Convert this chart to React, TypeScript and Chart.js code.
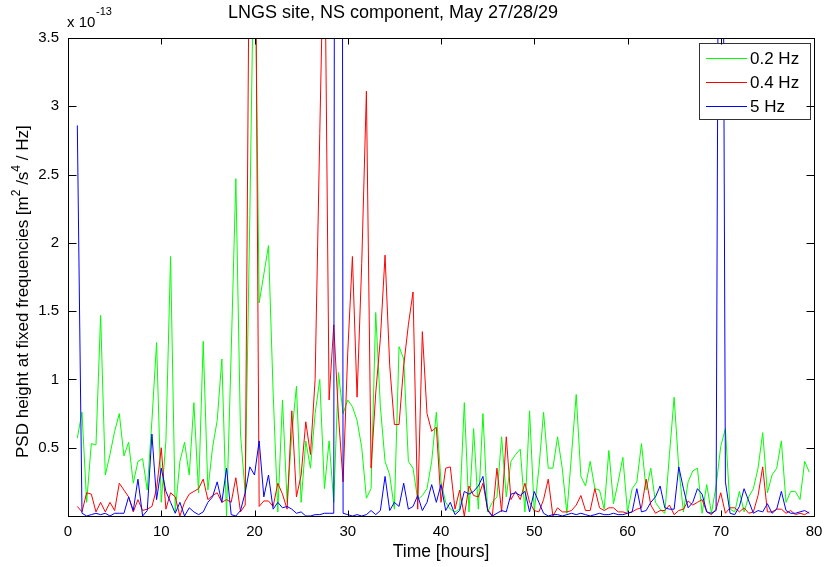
import React, { useEffect, useRef } from "react";
import { Chart, registerables } from "chart.js";

Chart.register(...registerables);

// Sampling grid of the PSD estimates (hours)
const FIRST_HOUR = 1;
const STEP_HOURS = 0.5;

// PSD height at 0.2 Hz, units of 1e-13 m^2/s^4/Hz (one row = 5 hours)
const psd02Hz = [
  0.57, 0.76, 0.1, 0.53, 0.52, 1.47, 0.3, 0.45, 0.62, 0.75,
  0.44, 0.54, 0.24, 0.4, 0.42, 0.19, 0.7, 1.27, 0.1, 0.55,
  1.9, 0.03, 0.4, 0.54, 0.3, 0.83, 0.17, 1.28, 0.19, 0.5,
  0.7, 1.15, 0.0, 1.2, 2.47, 0.6, 0.17, 2.2, 4.5, 1.56,
  1.77, 1.98, 0.9, 0.03, 0.85, 0.1, 0.6, 0.95, 0.1, 0.55,
  0.35, 0.75, 1.0, 0.2, 0.55, 0.1, 1.05, 0.75, 0.85, 0.8,
  0.7, 0.5, 0.13, 0.2, 1.49, 0.8, 0.4, 0.3, 0.05, 1.24,
  1.15, 0.4, 0.35, 0.12, 0.15, 0.2, 0.4, 0.76, 0.25, 0.1,
  0.05, 0.03, 0.05, 0.83, 0.03, 0.64, 0.05, 0.75, 0.03, 0.1,
  0.14, 0.58, 0.14, 0.4, 0.45, 0.49, 0.03, 0.77, 0.03, 0.35,
  0.76, 0.35, 0.35, 0.58, 0.35, 0.02, 0.45, 0.89, 0.29, 0.22,
  0.4, 0.2, 0.19, 0.05, 0.48, 0.09, 0.25, 0.43, 0.03, 0.2,
  0.25, 0.53, 0.19, 0.35, 0.1, 0.05, 0.02, 0.45, 0.87, 0.35,
  0.03, 0.25, 0.33, 0.35, 0.02, 0.23, 0.02, 0.22, 0.51, 0.64,
  0.05, 0.03, 0.18, 0.03, 0.14, 0.2, 0.35, 0.61, 0.17, 0.3,
  0.35, 0.55, 0.1, 0.18, 0.18, 0.12, 0.4, 0.32,
];

// PSD height at 0.4 Hz
const psd04Hz = [
  0.07, 0.03, 0.17, 0.16, 0.03, 0.1, 0.03, 0.1, 0.04, 0.24,
  0.19, 0.14, 0.03, 0.12, 0.04, 0.05, 0.07, 0.2, 0.5, 0.05,
  0.17, 0.14, 0.0, 0.1, 0.16, 0.18, 0.2, 0.27, 0.12, 0.15,
  0.17, 0.1, 0.12, 0.1, 0.28, 0.03, 0.08, 4.8, 5.5, 0.07,
  0.11, 0.11, 0.07, 0.24, 0.16, 0.05, 0.77, 0.14, 0.3, 0.69,
  0.45, 1.0, 2.8, 4.5, 0.85, 1.4, 0.74, 0.25, 1.2, 1.9,
  0.87, 1.85, 3.11, 0.35, 0.9, 1.3, 1.91, 1.1, 0.67, 0.67,
  1.1, 1.4, 1.64, 0.05, 1.35, 0.75, 0.62, 0.65, 0.1, 0.35,
  0.36, 0.05, 0.19, 0.0, 0.22, 0.15, 0.14, 0.24, 0.05, 0.0,
  0.35, 0.03, 0.58, 0.12, 0.18, 0.12, 0.24, 0.1, 0.04, 0.03,
  0.12, 0.27, 0.0, 0.06, 0.03, 0.03, 0.04, 0.08, 0.15, 0.04,
  0.04, 0.2, 0.06, 0.04, 0.06, 0.06, 0.03, 0.03, 0.02, 0.03,
  0.05, 0.06, 0.27, 0.08, 0.02, 0.04, 0.04, 0.08, 0.01, 0.04,
  0.05, 0.11, 0.08, 0.1, 0.12, 0.03, 0.01, 0.05, 0.17, 0.02,
  0.06, 0.06, 0.03, 0.06, 0.02, 0.03, 0.15, 0.36, 0.03, 0.03,
  0.05, 0.05, 0.02, 0.04, 0.01, 0.02, 0.01, 0.03,
];

// PSD height at 5 Hz
const psd5Hz = [
  2.86, 0.02, 0.0, 0.01, 0.02, 0.01, 0.02, 0.0, 0.02, 0.02,
  0.02, 0.14, 0.04, 0.27, 0.0, 0.04, 0.6, 0.12, 0.35, 0.18,
  0.1, 0.02, 0.1, 0.0, 0.06, 0.03, 0.01, 0.03, 0.1, 0.14,
  0.25, 0.1, 0.35, 0.01, 0.0, 0.04, 0.17, 0.36, 0.3, 0.55,
  0.14, 0.3, 0.05, 0.1, 0.06, 0.07, 0.05, 0.02, 0.03, 0.0,
  0.0, 0.01, 0.01, 0.02, 0.02, 0.02, 30, 0.02, 0.01, 0.0,
  0.01, 0.0, 0.01, 0.04, 0.01, 0.04, 0.29, 0.04, 0.1, 0.07,
  0.24, 0.05, 0.07, 0.15, 0.04, 0.1, 0.23, 0.1, 0.23, 0.04,
  0.1, 0.01, 0.04, 0.18, 0.16, 0.18, 0.22, 0.29, 0.04, 0.0,
  0.02, 0.04, 0.03, 0.16, 0.17, 0.15, 0.18, 0.03, 0.18, 0.1,
  0.02, 0.0, 0.01, 0.01, 0.0, 0.01, 0.02, 0.01, 0.02, 0.01,
  0.0, 0.01, 0.02, 0.01, 0.01, 0.02, 0.01, 0.01, 0.02, 0.03,
  0.2, 0.03, 0.04, 0.1, 0.14, 0.22, 0.06, 0.05, 0.05, 0.36,
  0.2, 0.06, 0.1, 0.2, 0.16, 0.03, 0.02, 0.04, 9, 0.25,
  0.02, 0.01, 0.07, 0.2, 0.11, 0.02, 0.04, 0.03, 0.09, 0.02,
  0.05, 0.18, 0.04, 0.02, 0.02, 0.03, 0.04, 0.02,
];

const seriesLabels = ["0.2 Hz", "0.4 Hz", "5 Hz"];
const seriesColors = ["#00ff00", "#ff0000", "#0000ff"];

const xTicks = [0, 10, 20, 30, 40, 50, 60, 70, 80];
const yTicks = [0.5, 1, 1.5, 2, 2.5, 3, 3.5];

const titleText = "LNGS site, NS component, May 27/28/29";
const xTitle = "Time [hours]";
const yTitleParts = [
  { text: "PSD height at fixed frequencies [m", sup: false },
  { text: "2", sup: true },
  { text: " /s", sup: false },
  { text: "4", sup: true },
  { text: " / Hz]", sup: false },
];

const FONT = "'Liberation Sans', Arial, Helvetica, sans-serif";

const toPoints = (values: number[]) =>
  values.map((v, i) => ({ x: FIRST_HOUR + STEP_HOURS * i, y: v }));

function drawRich(ctx: CanvasRenderingContext2D, parts: { text: string; sup: boolean }[], size: number) {
  let x = 0;
  for (const p of parts) {
    ctx.font = `${p.sup ? Math.round(size * 0.7) : size}px ${FONT}`;
    ctx.fillText(p.text, x, p.sup ? -size * 0.45 : 0);
    x += ctx.measureText(p.text).width;
  }
  return x;
}

const matlabAxes = {
  id: "matlabAxes",
  afterDatasetsDraw(chart: any) {
    const { ctx, chartArea: a, scales } = chart;
    const xs = scales.x;
    const ys = scales.y;
    ctx.save();

    // legend box
    const lx = 699, ly = 43, lw = 111, lh = 76;
    ctx.fillStyle = "#ffffff";
    ctx.fillRect(lx, ly, lw, lh);
    ctx.strokeStyle = "#333333";
    ctx.lineWidth = 1;
    ctx.strokeRect(lx + 0.5, ly + 0.5, lw, lh);
    ctx.font = `17px ${FONT}`;
    ctx.textBaseline = "middle";
    ctx.textAlign = "left";
    seriesLabels.forEach((label, i) => {
      const y = 58 + i * 24;
      ctx.strokeStyle = seriesColors[i];
      ctx.beginPath();
      ctx.moveTo(706, y + 0.5);
      ctx.lineTo(747, y + 0.5);
      ctx.stroke();
      ctx.fillStyle = "#000";
      ctx.fillText(label, 750, y + 1);
    });

    // axes box with inward ticks
    ctx.strokeStyle = "#000";
    ctx.lineWidth = 1;
    const L = Math.round(a.left) + 0.5;
    const R = Math.round(a.right) + 0.5;
    const T = Math.round(a.top) + 0.5;
    const B = Math.round(a.bottom) + 0.5;
    ctx.strokeRect(L, T, R - L, B - T);
    ctx.beginPath();
    xTicks.forEach((v) => {
      const px = Math.round(xs.getPixelForValue(v)) + 0.5;
      ctx.moveTo(px, B);
      ctx.lineTo(px, B - 6);
      ctx.moveTo(px, T);
      ctx.lineTo(px, T + 6);
    });
    yTicks.forEach((v) => {
      const py = Math.round(ys.getPixelForValue(v)) + 0.5;
      ctx.moveTo(L, py);
      ctx.lineTo(L + 8, py);
      ctx.moveTo(R, py);
      ctx.lineTo(R - 8, py);
    });
    ctx.stroke();

    // texts
    ctx.fillStyle = "#000";
    ctx.textBaseline = "alphabetic";
    ctx.textAlign = "center";
    ctx.font = `18px ${FONT}`;
    ctx.fillText(titleText, 393, 18);
    ctx.font = `17.5px ${FONT}`;
    ctx.fillText(xTitle, (a.left + a.right) / 2, 557);

    // y-axis title, read bottom to top
    ctx.save();
    ctx.textAlign = "left";
    ctx.translate(28, 458);
    ctx.rotate(-Math.PI / 2);
    drawRich(ctx, yTitleParts, 17);
    ctx.restore();

    // exponent label
    ctx.textAlign = "left";
    ctx.font = `15px ${FONT}`;
    ctx.fillText("x 10", 67, 27);
    ctx.font = `11px ${FONT}`;
    ctx.fillText("-13", 96, 15);

    ctx.restore();
  },
};

export default function App() {
  const canvasRef = useRef<HTMLCanvasElement | null>(null);

  useEffect(() => {
    const canvas = canvasRef.current;
    if (!canvas) return;
    const seriesValues = [psd02Hz, psd04Hz, psd5Hz];
    const chart = new Chart(canvas, {
      type: "line",
      data: {
        datasets: seriesValues.map((vals, i) => ({
          label: seriesLabels[i],
          data: toPoints(vals),
          borderColor: seriesColors[i],
          backgroundColor: seriesColors[i],
          borderWidth: 1,
          pointRadius: 0,
          tension: 0,
          fill: false,
          order: 2 - i,
        })),
      },
      options: {
        responsive: false,
        animation: false,
        events: [],
        layout: { padding: { left: 0, right: 10, top: 38, bottom: 0 } },
        scales: {
          x: {
            type: "linear",
            min: 0,
            max: 80,
            afterBuildTicks: (s: any) => {
              s.ticks = xTicks.map((v) => ({ value: v }));
            },
            afterFit: (s: any) => {
              s.height = 51;
              s.paddingLeft = 0;
              s.paddingRight = 0;
            },
            grid: { display: false, drawTicks: false },
            border: { display: false },
            ticks: {
              color: "#000",
              font: { family: FONT, size: 15 },
              padding: 7,
              maxRotation: 0,
              autoSkip: false,
              callback: (v: any) => String(v),
            },
          },
          y: {
            type: "linear",
            min: 0,
            max: 3.5,
            afterBuildTicks: (s: any) => {
              s.ticks = yTicks.map((v) => ({ value: v }));
            },
            afterFit: (s: any) => {
              s.width = 68;
              s.paddingTop = 0;
              s.paddingBottom = 0;
            },
            grid: { display: false, drawTicks: false },
            border: { display: false },
            ticks: {
              color: "#000",
              font: { family: FONT, size: 15 },
              padding: 9,
              autoSkip: false,
              callback: (v: any) => String(v),
            },
          },
        },
        plugins: {
          legend: { display: false },
          tooltip: { enabled: false },
          title: { display: false },
        },
      },
      plugins: [matlabAxes],
    });
    return () => chart.destroy();
  }, []);

  return (
    <div style={{ position: "absolute", left: 0, top: 0, width: 824, height: 567, background: "#fff" }}>
      <canvas ref={canvasRef} width={824} height={567} style={{ width: 824, height: 567 }} />
    </div>
  );
}
